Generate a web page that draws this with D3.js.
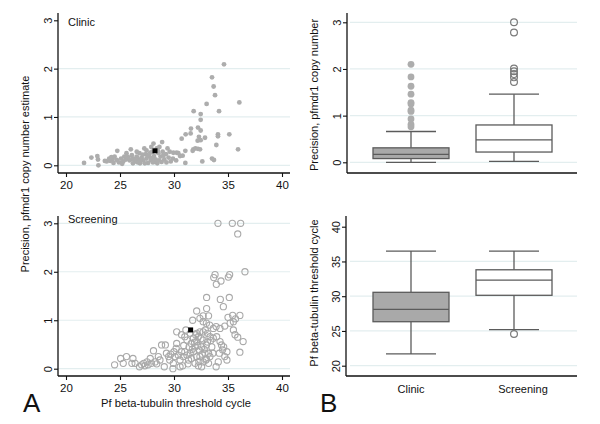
<!DOCTYPE html>
<html><head><meta charset="utf-8">
<script src="https://cdn.jsdelivr.net/npm/d3@7"></script>
<style>body{margin:0;background:#fff} text{font-family:"Liberation Sans",Arial,sans-serif;fill:#111}</style>
</head><body><svg id="c" width="600" height="424"></svg>
<script>
// ---------- data ----------
const ctTicks = [20, 25, 30, 35, 40];
const precTicks = [0, 1, 2, 3];
const ctBoxTicks = [20, 25, 30, 35, 40];
const categories = ["Clinic", "Screening"];

// scatter: [Pf beta-tubulin Ct, precision]
const clinicPoints = [
[34.63,2.09],[33.52,1.82],[33.67,1.63],[33.80,1.45],[36.05,1.30],[33.02,1.27],[31.82,1.12],[34.17,1.12],
[32.47,1.06],[32.47,0.94],[31.57,0.76],[32.22,0.78],[32.47,0.72],[35.12,0.64],[34.07,0.64],[34.07,0.60],
[31.08,0.64],[31.54,0.66],[30.71,0.55],[32.31,0.59],[32.19,0.51],[32.47,0.52],[32.87,0.57],[33.92,0.42],
[35.93,0.33],[31.79,0.33],[31.98,0.35],[32.22,0.34],[32.41,0.33],[31.73,0.30],[31.05,0.30],[33.52,0.14],
[33.70,0.11],[32.62,0.08],[31.05,0.05],[30.56,0.19],[30.25,0.26],[29.94,0.26],[30.40,0.25],
[21.67,0.05],[22.35,0.16],[22.90,0.19],[23.00,0.00],[22.96,0.12],[23.60,0.09],[23.77,0.08],[24.00,0.14],
[24.10,0.09],[24.30,0.12],[24.40,0.05],[24.50,0.18],[24.75,0.30],[24.70,0.11],[24.90,0.06],[25.10,0.14],
[25.20,0.03],[25.40,0.18],[25.55,0.12],[25.70,0.18],[25.90,0.10],[26.00,0.33],[26.10,0.21],[26.20,0.14],
[26.40,0.08],[26.55,0.18],[26.70,0.12],[26.80,0.25],[26.85,0.04],[27.00,0.16],[27.15,0.10],[27.25,0.35],
[27.40,0.23],[27.45,0.14],[27.60,0.05],[27.70,0.19],[27.85,0.11],[27.90,0.38],[28.00,0.28],[28.10,0.45],
[28.15,0.19],[28.30,0.12],[28.45,0.04],[28.55,0.25],[28.65,0.38],[28.75,0.18],[28.90,0.48],[28.95,0.28],
[29.10,0.12],[29.25,0.23],[29.40,0.35],[29.50,0.16],[29.60,0.28],[29.70,0.08],[28.85,0.07],[27.30,0.04],
[26.20,0.04],[25.60,0.25],[26.55,0.28],[28.40,0.35],[27.45,0.31],[26.90,0.09],[27.55,0.20],[28.20,0.08],
[27.10,0.22],[26.30,0.12],[25.80,0.15],[28.60,0.10],[29.30,0.06],[29.90,0.14],[30.20,0.10],[30.80,0.20],
[27.80,0.26],[28.50,0.30],[26.65,0.06],[27.95,0.15],[25.30,0.08],[24.20,0.17],[29.00,0.20],[28.05,0.06]
];
const screeningPoints = [
[34.07,3.00],[35.40,3.00],[36.17,3.00],[35.90,2.78],[36.57,2.00],[33.80,1.94],[33.68,1.88],[33.92,1.74],
[34.35,1.81],[35.03,1.89],[35.15,1.94],[34.29,1.43],[35.12,1.47],[33.02,1.47],[34.57,1.28],[32.10,1.19],
[33.02,1.24],[35.43,1.10],[36.10,1.10],[35.00,1.06],[35.70,1.03],[31.73,1.00],[32.70,1.09],[33.20,1.09],
[32.40,1.04],[35.50,0.97],[35.20,0.94],[35.50,0.80],[33.90,0.87],[33.64,0.83],[34.26,0.83],[34.70,0.88],
[35.65,0.70],[35.90,0.65],[36.40,0.56],[36.10,0.34],[34.26,0.56],[34.40,0.49],[34.60,0.45],[34.50,0.39],
[34.90,0.35],[34.70,0.25],[34.10,0.14],[33.90,0.04],[34.90,0.18],[33.64,0.63],[33.95,0.66],[33.33,0.66],
[30.25,0.76],[30.70,0.70],[31.00,0.66],[31.20,0.59],[31.50,0.73],[31.60,0.52],[31.80,0.63],[31.95,0.45],
[32.10,0.56],[32.25,0.66],[32.35,0.39],[32.40,0.25],[32.56,0.45],[32.70,0.59],[32.70,0.76],[32.87,0.32],
[32.96,0.18],[33.00,0.49],[33.10,0.73],[33.20,0.32],[33.30,0.90],[33.00,0.94],[32.10,0.25],[31.95,0.11],
[32.25,0.06],[31.50,0.32],[31.35,0.18],[31.00,0.35],[30.86,0.25],[30.70,0.35],[30.56,0.18],[30.40,0.28],
[30.25,0.52],[30.20,0.42],[30.10,0.25],[29.94,0.11],[29.90,0.00],[30.80,0.06],[30.56,0.04],[29.60,0.18],
[29.50,0.25],[29.30,0.32],[29.20,0.49],[28.85,0.49],[29.10,0.04],[28.70,0.18],[28.55,0.25],[28.25,0.14],
[28.10,0.37],[27.90,0.11],[27.80,0.21],[27.60,0.08],[27.50,0.14],[27.20,0.11],[27.00,0.08],[26.80,0.04],
[26.40,0.11],[26.20,0.21],[26.10,0.11],[25.60,0.25],[25.30,0.11],[25.06,0.21],[24.50,0.08],[32.10,0.73],
[32.40,0.76],[32.70,0.97],[33.50,0.45],[33.60,0.32],[33.33,0.25],[33.20,0.11],[32.56,0.04],[32.70,0.14],
[31.80,0.35],[31.60,0.21],[31.90,0.55],[32.00,0.70],[32.50,0.62],[32.80,0.40],[33.10,0.55],[31.40,0.45],
[31.70,0.40],[32.20,0.48],[32.60,0.30],[31.20,0.28],[30.90,0.48],[32.90,0.80],[33.40,0.58],[31.30,0.10],
[29.70,0.30],[28.40,0.10],[27.30,0.06],[30.00,0.35],[32.30,0.15],[33.00,0.20],[31.10,0.80],[34.20,0.32]
];
const clinicMean = [28.24, 0.30];
const screeningMean = [31.54, 0.80];

// box plot summaries: [whiskerLow, q1, median, q3, whiskerHigh]
const precBoxClinic = [0.00, 0.08, 0.17, 0.31, 0.66];
const precBoxScreening = [0.02, 0.22, 0.48, 0.80, 1.46];
const precOutClinic = [2.10, 1.83, 1.63, 1.46, 1.28, 1.25, 1.12, 1.09, 0.93, 0.81, 0.76];
const precOutScreening = [3.00, 2.78, 2.01, 1.95, 1.89, 1.82, 1.72];
const ctBoxClinic = [21.7, 26.33, 28.1, 30.56, 36.5];
const ctBoxScreening = [25.2, 30.13, 32.3, 33.8, 36.5];
const ctOutClinic = [];
const ctOutScreening = [24.56];

// ---------- drawing ----------
const svg = d3.select("#c");
const GRID = "#e3eeef", AX = "#111";

const xCt = d3.scaleLinear([20, 40], [66, 282]);
const yTL = d3.scaleLinear([0, 3], [165.3, 20.3]);
const yBL = d3.scaleLinear([0, 3], [368.7, 223.3]);
const yTR = d3.scaleLinear([0, 3], [162.3, 22.3]);
const yBR = d3.scaleLinear([20, 40], [365.7, 226.7]);
const xCat = d3.scalePoint(categories, [411, 514]);

function grid(y, vals, x0, x1) {
  svg.append("g").selectAll("line").data(vals).join("line")
    .attr("x1", x0).attr("x2", x1).attr("y1", d => y(d)).attr("y2", d => y(d))
    .attr("stroke", GRID).attr("stroke-width", 1.2);
}
function yAxis(y, vals, x, top, bottom) {
  const g = svg.append("g").attr("transform", `translate(${x},0)`)
    .call(d3.axisLeft(y).tickValues(vals).tickSize(4).tickSizeOuter(0).tickFormat(d3.format("d")));
  g.select(".domain").remove();
  g.selectAll(".tick line").attr("stroke", AX).attr("stroke-width", 1.1);
  g.selectAll(".tick text").attr("x", null).attr("dy", null)
    .attr("transform", "translate(-6,0) rotate(-90)").attr("text-anchor", "middle")
    .style("font-size", "11px").attr("fill", "#111");
  svg.append("line").attr("x1", x).attr("x2", x).attr("y1", top).attr("y2", bottom)
    .attr("stroke", AX).attr("stroke-width", 1.3);
}
function xAxis(x, vals, y, left, right) {
  const g = svg.append("g").attr("transform", `translate(0,${y})`)
    .call(d3.axisBottom(x).tickValues(vals).tickSize(4).tickSizeOuter(0).tickPadding(4));
  g.select(".domain").remove();
  g.selectAll(".tick line").attr("stroke", AX).attr("stroke-width", 1.1);
  g.selectAll(".tick text").style("font-size", "11.5px").attr("fill", "#111");
  svg.append("line").attr("x1", left).attr("x2", right).attr("y1", y).attr("y2", y)
    .attr("stroke", AX).attr("stroke-width", 1.3);
}

// ---- Panel A top: Clinic ----
grid(yTL, [0, 1, 2], 58, 290);
svg.append("g").selectAll("circle").data(clinicPoints).join("circle")
  .attr("cx", d => xCt(d[0])).attr("cy", d => yTL(d[1])).attr("r", 2.4).attr("fill", "#adadad");
svg.append("rect").attr("x", xCt(clinicMean[0]) - 2.5).attr("y", yTL(clinicMean[1]) - 2.5)
  .attr("width", 5).attr("height", 5).attr("fill", "#000");
yAxis(yTL, precTicks, 58, 13, 173);
xAxis(xCt, ctTicks, 173, 58, 290);
svg.append("text").attr("x", 68).attr("y", 26).style("font-size", "11px").text("Clinic");

// ---- Panel A bottom: Screening ----
grid(yBL, [0, 1, 2, 3], 58, 290);
svg.append("g").selectAll("circle").data(screeningPoints).join("circle")
  .attr("cx", d => xCt(d[0])).attr("cy", d => yBL(d[1])).attr("r", 3.1)
  .attr("fill", "none").attr("stroke", "#a9a9a9").attr("stroke-width", 1.1);
svg.append("rect").attr("x", xCt(screeningMean[0]) - 2.5).attr("y", yBL(screeningMean[1]) - 2.5)
  .attr("width", 5).attr("height", 5).attr("fill", "#000");
yAxis(yBL, precTicks, 58, 216, 376);
xAxis(xCt, ctTicks, 376, 58, 290);
svg.append("text").attr("x", 68).attr("y", 223).style("font-size", "11px").text("Screening");

svg.append("text").attr("transform", "translate(29,174) rotate(-90)").attr("text-anchor", "middle")
  .style("font-size", "11px").text("Precision, pfmdr1 copy number estimate");
svg.append("text").attr("x", 176).attr("y", 407).attr("text-anchor", "middle")
  .style("font-size", "11.2px").text("Pf beta-tubulin threshold cycle");
svg.append("text").attr("x", 23).attr("y", 412).style("font-size", "26px").text("A");

// ---- Panel B ----
function boxplot(y, stats, outs, cat, fill, hollow) {
  const cx = xCat(cat), w = 76, cap = 50;
  const [lo, q1, md, q3, hi] = stats;
  const g = svg.append("g");
  const st = "#5b5b5b";
  g.append("line").attr("x1", cx).attr("x2", cx).attr("y1", y(q3)).attr("y2", y(hi)).attr("stroke", st).attr("stroke-width", 1.3);
  g.append("line").attr("x1", cx).attr("x2", cx).attr("y1", y(q1)).attr("y2", y(lo)).attr("stroke", st).attr("stroke-width", 1.3);
  g.append("line").attr("x1", cx - cap / 2).attr("x2", cx + cap / 2).attr("y1", y(hi)).attr("y2", y(hi)).attr("stroke", st).attr("stroke-width", 1.3);
  g.append("line").attr("x1", cx - cap / 2).attr("x2", cx + cap / 2).attr("y1", y(lo)).attr("y2", y(lo)).attr("stroke", st).attr("stroke-width", 1.3);
  g.append("rect").attr("x", cx - w / 2).attr("y", y(q3)).attr("width", w).attr("height", y(q1) - y(q3))
    .attr("fill", fill).attr("stroke", st).attr("stroke-width", 1.3);
  g.append("line").attr("x1", cx - w / 2).attr("x2", cx + w / 2).attr("y1", y(md)).attr("y2", y(md)).attr("stroke", st).attr("stroke-width", 1.3);
  g.selectAll("circle").data(outs).join("circle").attr("cx", cx).attr("cy", d => y(d)).attr("r", 3.4)
    .attr("fill", hollow ? "none" : "#adadad").attr("stroke", hollow ? "#7a7a7a" : "none").attr("stroke-width", 1.2);
}

grid(yTR, [0, 1, 2, 3], 350, 577);
boxplot(yTR, precBoxClinic, precOutClinic, "Clinic", "#a9a9a9", false);
boxplot(yTR, precBoxScreening, precOutScreening, "Screening", "#fff", true);
yAxis(yTR, precTicks, 347, 13, 173);
svg.append("line").attr("x1", 347).attr("x2", 577).attr("y1", 173).attr("y2", 173).attr("stroke", AX).attr("stroke-width", 1.3);
svg.append("text").attr("transform", "translate(318,95) rotate(-90)").attr("text-anchor", "middle")
  .style("font-size", "11px").text("Precision, pfmdr1 copy number");

grid(yBR, [20, 25, 30, 35], 350, 577);
boxplot(yBR, ctBoxClinic, ctOutClinic, "Clinic", "#a9a9a9", false);
boxplot(yBR, ctBoxScreening, ctOutScreening, "Screening", "#fff", true);
yAxis(yBR, ctBoxTicks, 346, 216, 376);
svg.append("line").attr("x1", 346).attr("x2", 577).attr("y1", 376).attr("y2", 376).attr("stroke", AX).attr("stroke-width", 1.3);
svg.append("text").attr("transform", "translate(318,293) rotate(-90)").attr("text-anchor", "middle")
  .style("font-size", "11px").text("Pf beta-tubulin threshold cycle");
svg.append("g").selectAll("text").data(categories).join("text")
  .attr("x", d => xCat(d) + (d === "Screening" ? 9 : 0)).attr("y", 393).attr("text-anchor", "middle")
  .style("font-size", "11px").text(d => d);
svg.append("text").attr("x", 320).attr("y", 412).style("font-size", "26px").text("B");
</script></body></html>
